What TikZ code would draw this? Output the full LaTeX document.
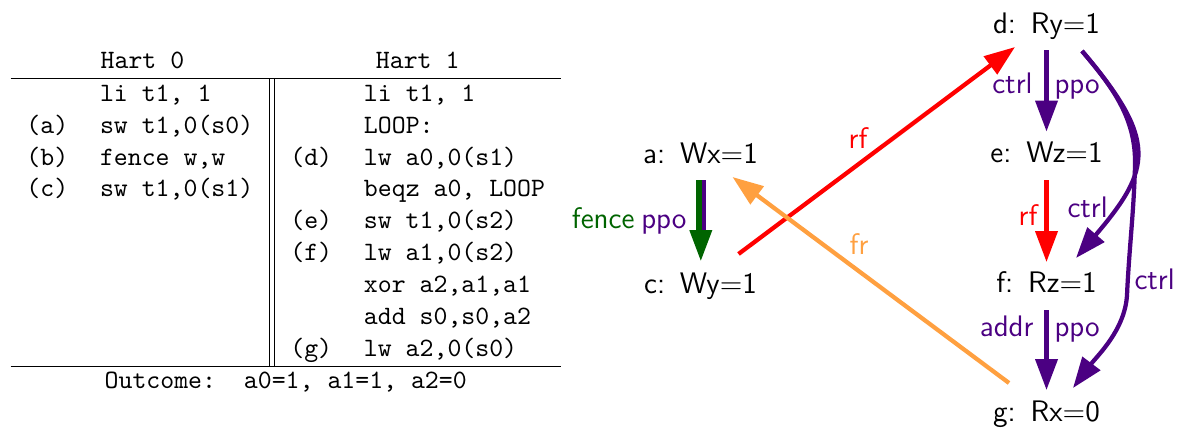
\documentclass[tikz,border=0pt]{standalone}
\usepackage{fontspec}
\usetikzlibrary{arrows.meta,calc}
\definecolor{rfcol}{RGB}{255,0,0}
\definecolor{frcol}{RGB}{255,160,64}
\definecolor{ppocol}{RGB}{75,0,130}
\definecolor{fencecol}{RGB}{0,100,0}
\tikzset{
  lab/.style={font=\sffamily\fontsize{11.2}{13}\selectfont, inner sep=0pt},
  ev/.style={lab, anchor=base},
  arr/.style={line width=1.6pt, -{Triangle[length=11.6pt,width=8.2pt]}},
  plain/.style={line width=1.6pt},
}
\begin{document}
\begin{tikzpicture}[x=0.377pt,y=-0.377pt]
\useasboundingbox (0,0) rectangle (1181,429);
% litmus table
\node[anchor=north west, inner sep=0pt, font=\ttfamily\fontsize{10}{12}\selectfont] (tbl) at (10,45.7) {%
\begin{tabular}{ll||ll}
\multicolumn{2}{c}{Hart 0} & \multicolumn{2}{c}{Hart 1}\\
\hline
    & li t1, 1    &     & li t1, 1\\
(a) & sw t1,0(s0) &     & LOOP:\\
(b) & fence w,w   & (d) & lw a0,0(s1)\\
(c) & sw t1,0(s1) &     & beqz a0, LOOP\\
    &             & (e) & sw t1,0(s2)\\
    &             & (f) & lw a1,0(s2)\\
    &             &     & xor a2,a1,a1\\
    &             &     & add s0,s0,a2\\
    &             & (g) & lw a2,0(s0)\\
\hline
\multicolumn{4}{c}{Outcome:\ \ a0=1, a1=1, a2=0}
\end{tabular}};
% events
\node[ev] (a) at (700.5,163) {a:\hspace{0.5em}Wx$=$1};
\node[ev] (c) at (700.5,293) {c:\hspace{0.5em}Wy$=$1};
\node[ev] (d) at (1046.5,33) {d:\hspace{0.5em}Ry$=$1};
\node[ev] (e) at (1046.5,162.5) {e:\hspace{0.5em}Wz$=$1};
\node[ev] (f) at (1046.5,292) {f:\hspace{0.5em}Rz$=$1};
\node[ev] (g) at (1046.5,421.5) {g:\hspace{0.5em}Rx$=$0};
% a -> c (fence + ppo)
\draw[arr, fencecol] ($(a.base)+(0.3,17)$) -- ($(c.base)+(0.3,-32)$);
\draw[plain, fencecol] ($(a.base)+(-2.3,17)$) -- ($(c.base)+(-2.3,-63)$);
\draw[plain, ppocol] ($(a.base)+(3.3,17)$) -- ($(c.base)+(3.3,-63)$);
% vertical edges of hart 1
\draw[arr, ppocol] ($(d.base)+(0,17)$) -- ($(e.base)+(0,-31)$);
\draw[arr, rfcol] ($(e.base)+(0,17.5)$) -- ($(f.base)+(0,-30)$);
\draw[arr, ppocol] ($(f.base)+(0,18)$) -- ($(g.base)+(0,-31.5)$);
% curved ctrl edges
\draw[arr, ppocol] ($(d.base)+(35.5,18)$) .. controls ($(d.base)+(111.5,107)$) and ($(f.base)+(105.5,-123)$) .. ($(f.base)+(29.5,-34)$);
\draw[arr, ppocol] ($(d.base)+(35.5,18)$)
  .. controls ($(d.base)+(68,56)$) and ($(d.base)+(89.5,87)$) .. ($(d.base)+(88.5,132)$)
  .. controls ($(d.base)+(87.5,177)$) and ($(g.base)+(82.5,-171.5)$) .. ($(g.base)+(80.5,-126.5)$)
  .. controls ($(g.base)+(78.5,-91.5)$) and ($(g.base)+(50.5,-65.5)$) .. ($(g.base)+(26.5,-33.5)$);
% cross edges
\draw[arr, rfcol] ($(c.base)+(38,-39)$) -- ($(d.base)+(-31.5,14)$);
\draw[arr, frcol] ($(g.base)+(-37.5,-38.5)$) -- ($(a.base)+(32,14)$);
% labels
\node[lab, anchor=base east, text=fencecol] (lfence) at (635,228) {fence};
\node[lab, anchor=base east, text=ppocol] (lppoac) at (687,228) {ppo};
\node[lab, anchor=base east, text=ppocol] (lctrlde) at (1033,93) {ctrl};
\node[lab, anchor=base west, text=ppocol] (lppode) at (1054,93) {ppo};
\node[lab, anchor=base east, text=rfcol] (lrfef) at (1038,225) {rf};
\node[lab, anchor=base west, text=ppocol] (lctrldf) at (1067,217) {ctrl};
\node[lab, anchor=base west, text=ppocol] (lctrldg) at (1134,289) {ctrl};
\node[lab, anchor=base east, text=ppocol] (laddr) at (1034,336) {addr};
\node[lab, anchor=base west, text=ppocol] (lppofg) at (1054,336) {ppo};
\node[lab, anchor=base, text=rfcol] (lrfcd) at (858,148) {rf};
\node[lab, anchor=base, text=frcol] (lfrga) at (859,254) {fr};
\end{tikzpicture}
\end{document}
